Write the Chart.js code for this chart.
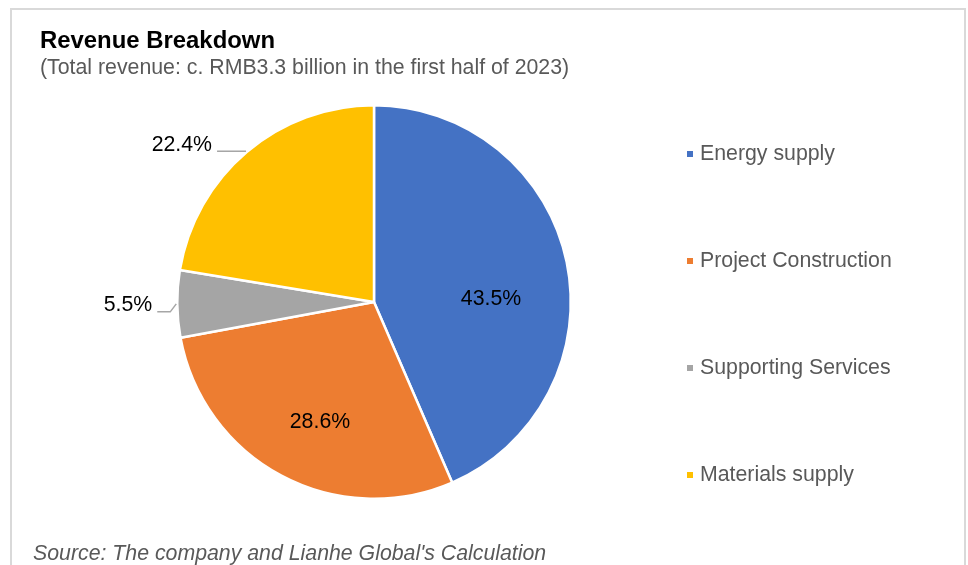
<!DOCTYPE html>
<html>
<head>
<meta charset="utf-8">
<script src="https://cdn.jsdelivr.net/npm/chart.js@4/dist/chart.umd.min.js"></script>
<style>
  html, body { margin: 0; padding: 0; background: #ffffff; }
  #wrap { width: 968px; height: 565px; position: relative; }
</style>
</head>
<body>
<div id="wrap"><canvas id="c" width="968" height="565"></canvas></div>
<script>
// ---- data ----
const categories = ["Energy supply", "Project Construction", "Supporting Services", "Materials supply"];
const shares = [43.5, 28.6, 5.5, 22.4];
const colors = ["#4472C4", "#ED7D31", "#A5A5A5", "#FFC000"];
const titleText = "Revenue Breakdown";
const subtitleText = "(Total revenue: c. RMB3.3 billion in the first half of 2023)";
const sourceText = "Source: The company and Lianhe Global's Calculation";

// label placement hints (style): inside labels as [radius ratio, angle in degrees], outside with leader
const labelStyle = [
  { inside: true, ratio: 0.595, angle: -1.5 },
  { inside: true, ratio: 0.67, angle: 114.2 },
  { inside: false, elbow: true },
  { inside: false, elbow: false }
];

const FONT = "'Liberation Sans', Arial, Helvetica, sans-serif";
const FS = "21.3px ";

const decor = {
  id: 'decor',
  beforeDraw(chart) {
    const ctx = chart.ctx;
    ctx.save();
    ctx.fillStyle = '#ffffff';
    ctx.fillRect(0, 0, chart.width, chart.height);
    ctx.strokeStyle = '#d9d9d9';
    ctx.lineWidth = 2;
    ctx.strokeRect(11, 9, 954, 620);
    ctx.restore();
  },
  afterDraw(chart) {
    const ctx = chart.ctx;
    ctx.save();
    // title + subtitle
    ctx.textBaseline = 'alphabetic';
    ctx.textAlign = 'left';
    ctx.fillStyle = '#000000';
    ctx.font = "bold 23.9px " + FONT;
    ctx.fillText(titleText, 40, 48);
    ctx.fillStyle = '#595959';
    ctx.font = FS + FONT;
    ctx.fillText(subtitleText, 40, 74);
    // source
    ctx.font = "italic " + FS + FONT;
    ctx.fillText(sourceText, 33, 560);

    // legend
    const legendY = [154, 261, 368, 475];
    ctx.font = FS + FONT;
    ctx.textBaseline = 'middle';
    categories.forEach((c, i) => {
      ctx.fillStyle = colors[i];
      ctx.fillRect(687, legendY[i] - 3, 6, 6);
      ctx.fillStyle = '#595959';
      ctx.fillText(c, 700, legendY[i]);
    });

    // data labels
    const meta = chart.getDatasetMeta(0);
    meta.data.forEach((arc, i) => {
      const p = arc.getProps(['x', 'y', 'outerRadius', 'startAngle', 'endAngle'], true);
      const st = labelStyle[i];
      const txt = shares[i].toFixed(1) + '%';
      ctx.fillStyle = '#000000';
      ctx.font = FS + FONT;
      if (st.inside) {
        const a = st.angle * Math.PI / 180;
        const r = p.outerRadius * st.ratio;
        ctx.textAlign = 'center';
        ctx.textBaseline = 'middle';
        ctx.fillText(txt, p.x + r * Math.cos(a), p.y + r * Math.sin(a));
      } else {
        const mid = (p.startAngle + p.endAngle) / 2;
        const ex = p.x + (p.outerRadius + 1) * Math.cos(mid);
        const ey = p.y + (p.outerRadius + 1) * Math.sin(mid);
        ctx.strokeStyle = '#A6A6A6';
        ctx.lineWidth = 1.5;
        ctx.beginPath();
        ctx.moveTo(ex, ey);
        let lx, ly;
        if (st.elbow) {
          const bx = ex - 6, by = ey + 8;
          ctx.lineTo(bx, by);
          lx = bx - 13; ly = by;
        } else {
          lx = ex - 29; ly = ey;
        }
        ctx.lineTo(lx, ly);
        ctx.stroke();
        ctx.textAlign = 'right';
        ctx.textBaseline = 'middle';
        ctx.fillText(txt, lx - 5, ly - 6.5);
      }
    });
    ctx.restore();
  }
};

new Chart(document.getElementById('c'), {
  type: 'pie',
  data: {
    labels: categories,
    datasets: [{
      data: shares,
      backgroundColor: colors,
      borderColor: '#ffffff',
      borderWidth: 2.5
    }]
  },
  options: {
    responsive: false,
    animation: false,
    rotation: 0,
    layout: { padding: { left: 176, right: 396, top: 104, bottom: 65 } },
    plugins: {
      legend: { display: false },
      title: { display: false },
      tooltip: { enabled: false }
    }
  },
  plugins: [decor]
});
</script>
</body>
</html>
